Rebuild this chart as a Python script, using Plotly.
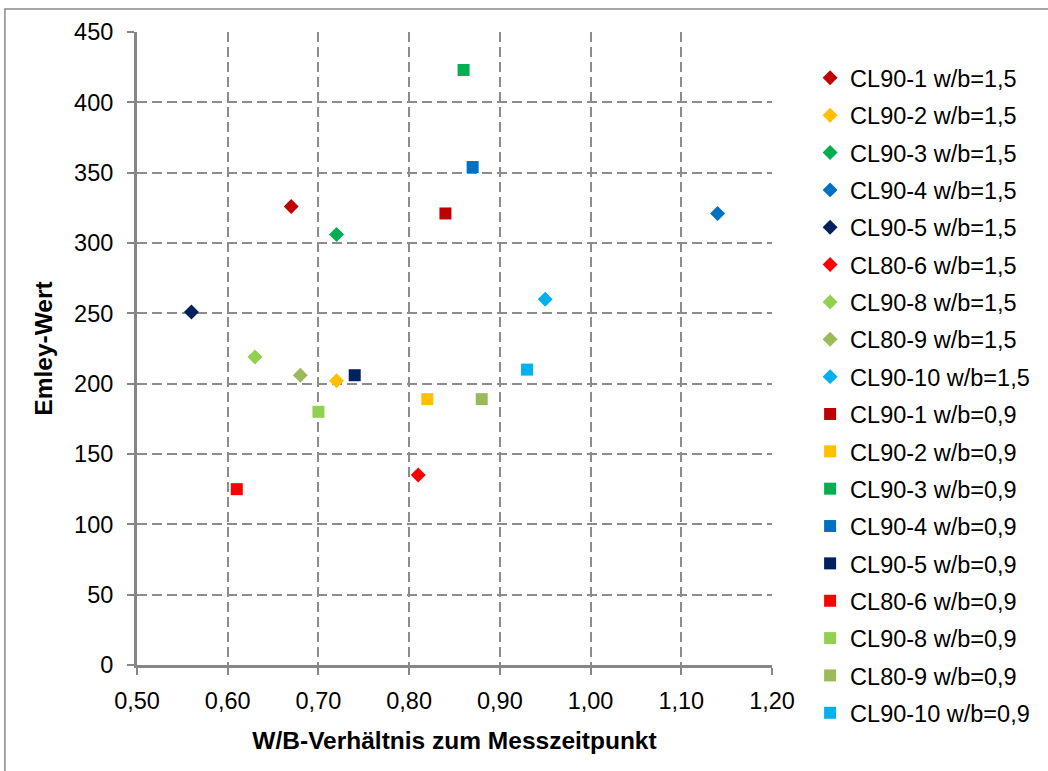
import plotly.graph_objects as go

# Samples and their marker colours
samples = ["CL90-1", "CL90-2", "CL90-3", "CL90-4", "CL90-5",
           "CL80-6", "CL90-8", "CL80-9", "CL90-10"]
colors = ["#C00000", "#FFC000", "#00B050", "#0070C0", "#002060",
          "#FF0000", "#92D050", "#9BBB59", "#00B0F0"]

# w/b = 1,5 series (diamonds)
wb15_x = [0.67, 0.72, 0.72, 1.14, 0.56, 0.81, 0.63, 0.68, 0.95]
wb15_y = [326, 202, 306, 321, 251, 135, 219, 206, 260]

# w/b = 0,9 series (squares)
wb09_x = [0.84, 0.82, 0.86, 0.87, 0.74, 0.61, 0.70, 0.88, 0.93]
wb09_y = [321, 189, 423, 354, 206, 125, 180, 189, 210]

FONT = "Liberation Sans, Arial, sans-serif"
FS = 23.5
GRID = "#8C8C8C"
AXIS = "#868686"

fig = go.Figure()

for i, name in enumerate(samples):
    fig.add_trace(go.Scatter(
        x=[wb15_x[i]], y=[wb15_y[i]], mode="markers",
        name=f"{name} w/b=1,5", legendgroup=f"a{i}",
        marker=dict(symbol="diamond", size=11.5, color=colors[i], line=dict(width=0)),
    ))
for i, name in enumerate(samples):
    fig.add_trace(go.Scatter(
        x=[wb09_x[i]], y=[wb09_y[i]], mode="markers",
        name=f"{name} w/b=0,9", legendgroup=f"b{i}",
        marker=dict(symbol="square", size=12, color=colors[i], line=dict(width=0)),
    ))

fig.update_layout(
    width=1048, height=771,
    margin=dict(l=137, r=276, t=32, b=106),
    paper_bgcolor="white", plot_bgcolor="white",
    font=dict(family=FONT, size=FS, color="black"),
    separators=", ",
    showlegend=True,
    legend=dict(
        x=1.06, xanchor="left", y=0.962, yanchor="top",
        font=dict(family=FONT, size=FS, color="black"),
        traceorder="grouped", tracegroupgap=3.8,
        bgcolor="rgba(0,0,0,0)", itemwidth=30, maxheight=760,
    ),
    shapes=[dict(
        type="rect", xref="paper", yref="paper",
        x0=-0.208, x1=1.45, y0=-0.2, y1=1.0363,
        line=dict(color="#8A8A8A", width=1.5), fillcolor="rgba(0,0,0,0)",
        layer="below",
    )],
)

fig.update_xaxes(
    range=[0.5, 1.2], dtick=0.1, tick0=0.5, tickformat=".2f",
    showgrid=True, gridcolor=GRID, gridwidth=1.5, griddash="10px,5px",
    showline=True, linecolor=AXIS, linewidth=3,
    ticks="outside", ticklen=7, tickwidth=2, tickcolor=AXIS,
    ticklabelstandoff=6, zeroline=False,
    title=dict(text="<b>W/B-Verhältnis zum Messzeitpunkt</b>",
               font=dict(family=FONT, size=24.5), standoff=19),
)
fig.update_yaxes(
    range=[0, 450], dtick=50, tick0=0,
    showgrid=True, gridcolor=GRID, gridwidth=1.5, griddash="10px,5px",
    showline=True, linecolor=AXIS, linewidth=3,
    ticks="outside", ticklen=7, tickwidth=2, tickcolor=AXIS,
    ticklabelstandoff=9, zeroline=False,
    title=dict(text="<b>Emley-Wert</b>",
               font=dict(family=FONT, size=24.5), standoff=15),
)

fig.write_html("out.html")
